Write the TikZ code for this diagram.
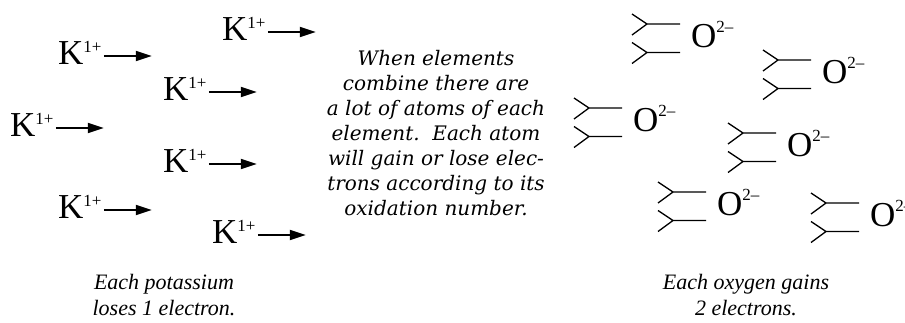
\documentclass[tikz,border=0pt]{standalone}
\usepackage{fontspec}
\setmainfont{Liberation Serif}
\newfontfamily\notefont{DejaVu Serif}
\usetikzlibrary{arrows.meta}

\tikzset{
  ion/.style={anchor=base west, inner sep=0pt, font=\fontsize{35}{35}\selectfont},
  ionarrow/.style={-{Triangle[length=16pt, width=10pt]}, line width=1.8pt},
  fork/.style={line width=1.3pt},
  note/.style={align=center, inner sep=0pt, font=\notefont\fontsize{20}{25}\selectfont\itshape},
  caption/.style={align=center, inner sep=0pt, font=\fontsize{22}{26}\selectfont\itshape},
}
\newcommand{\ionsup}[2]{\raisebox{#1}{\fontsize{17}{17}\selectfont #2}}

\begin{document}
\begin{tikzpicture}[x=1pt, y=-1pt]
  \useasboundingbox (0,0) rectangle (905,322);
  \clip (0,0) rectangle (905,322);

  % potassium ions
  \foreach \kx/\ky [count=\i] in {222/40, 58/64, 163/100, 10/136, 163/172, 58/218, 212/243}{
    \node[ion] (k\i) at (\kx,\ky) {K\ionsup{12pt}{1+}};
    \coordinate (k\i end) at ([shift={(50,-8)}]k\i.base east);
    \draw[ionarrow] ([shift={(2,-8)}]k\i.base east) -- (k\i end);
  }

  % oxide ions with two incoming electrons
  \foreach \jx/\jy [count=\i] in {647/24, 778/60, 589/108, 743/133, 673/192, 826/203}{
    \foreach \dy in {0, 28.5}{
      \draw[fork] (\jx-15,\jy+\dy-10) -- (\jx,\jy+\dy) -- (\jx-15,\jy+\dy+11)
                  (\jx,\jy+\dy) -- (\jx+33,\jy+\dy);
    }
    \node[ion] (o\i) at (\jx+44,\jy+23) {O\ionsup{15pt}{2–}};
  }

  \node[note] (explain) at (436,133) {When elements\\combine there are\\a lot of atoms of each\\element.\ \ Each atom\\will gain or lose elec-\\trons according to its\\oxidation number.};

  \node[caption] (kcap) at (164,295) {Each potassium\\loses 1 electron.};
  \node[caption] (ocap) at (746,295) {Each oxygen gains\\2 electrons.};
\end{tikzpicture}
\end{document}
